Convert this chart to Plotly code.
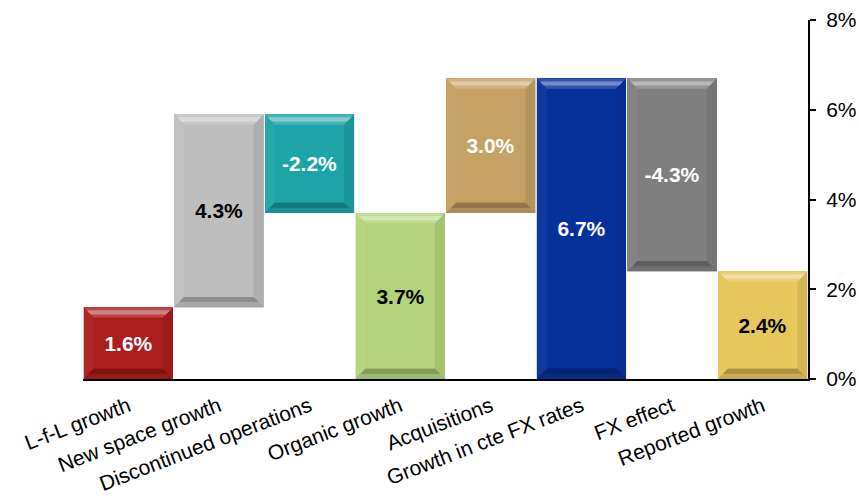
import plotly.graph_objects as go

# Growth bridge data (percent)
categories = [
    "L-f-L growth",
    "New space growth",
    "Discontinued operations",
    "Organic growth",
    "Acquisitions",
    "Growth in cte FX rates",
    "FX effect",
    "Reported growth",
]
values = [1.6, 4.3, -2.2, 3.7, 3.0, 6.7, -4.3, 2.4]
kinds = ["delta", "delta", "delta", "total", "delta", "total", "delta", "total"]
labels = ["1.6%", "4.3%", "-2.2%", "3.7%", "3.0%", "6.7%", "-4.3%", "2.4%"]
y_ticks = [0, 2, 4, 6, 8]

# Bar face colours and label colours
faces = ["#AC1D1D", "#BEBEBE", "#1DA4A7", "#B3D37B", "#C4A165", "#06319B", "#7F7F7F", "#E6C75B"]
text_colors = ["white", "black", "white", "black", "white", "white", "white", "black"]


def mix(hex_col, target, t):
    """Blend a hex colour toward an RGB target by fraction t."""
    h = hex_col.lstrip("#")
    r, g, b = (int(h[k:k + 2], 16) for k in (0, 2, 4))
    tr, tg, tb = target
    return "#{:02X}{:02X}{:02X}".format(
        round(r + (tr - r) * t), round(g + (tg - g) * t), round(b + (tb - b) * t)
    )


WHITE = (255, 255, 255)
BLACK = (0, 0, 0)

# Running level for the bridge: deltas float, totals start at zero
bases, heights = [], []
level = 0.0
for v, k in zip(values, kinds):
    if k == "total":
        bases.append(0.0)
        heights.append(v)
        level = v
    else:
        bases.append(level)
        heights.append(v)
        level = round(level + v, 6)

xs = list(range(len(categories)))
bar_w = 0.985

fig = go.Figure()
fig.add_trace(
    go.Bar(
        x=xs,
        y=heights,
        base=bases,
        width=bar_w,
        marker=dict(color=faces, line=dict(width=0)),
        text=labels,
        textposition="inside",
        insidetextanchor="middle",
        textangle=0,
        constraintext="none",
        textfont=dict(family="Liberation Sans, Arial", size=21, color=text_colors, weight="bold"),
        hoverinfo="skip",
        showlegend=False,
    )
)

# Bevelled edges on each bar, built in data units from the same values
dx = 0.11
dy = 0.23
shapes = []


def poly(col, pts):
    path = "M " + " L ".join(f"{px:.4f},{py:.4f}" for px, py in pts) + " Z"
    return dict(type="path", path=path, xref="x", yref="y",
                fillcolor=col, line=dict(width=0), layer="above")


for i, (b, h) in enumerate(zip(bases, heights)):
    face = faces[i]
    y0 = min(b, b + h)
    y1 = max(b, b + h)
    x0 = i - bar_w / 2
    x1 = i + bar_w / 2
    ix0, ix1 = x0 + dx, x1 - dx
    iy0, iy1 = y0 + dy, y1 - dy
    # sides and bottom
    shapes.append(poly(mix(face, WHITE, 0.04), [(x0, y0), (x0, y1), (ix0, iy1), (ix0, iy0)]))
    shapes.append(poly(mix(face, BLACK, 0.08), [(x1, y0), (x1, y1), (ix1, iy1), (ix1, iy0)]))
    shapes.append(poly(mix(face, BLACK, 0.22), [(x0, y0), (x1, y0), (ix1, iy0), (ix0, iy0)]))
    # softer inner band of the bottom edge
    a, c = 0.0, 0.5
    shapes.append(poly(mix(face, BLACK, 0.12), [
        (x0 + dx * a, y0 + dy * a), (x1 - dx * a, y0 + dy * a),
        (x1 - dx * c, y0 + dy * c), (x0 + dx * c, y0 + dy * c)]))
    shapes.append(poly(mix(face, BLACK, 0.26), [
        (x0 + dx * c, y0 + dy * c), (x1 - dx * c, y0 + dy * c),
        (ix1, iy0), (ix0, iy0)]))
    # top edge with a bright highlight band
    shapes.append(poly(mix(face, WHITE, 0.18), [(x0, y1), (x1, y1), (ix1, iy1), (ix0, iy1)]))
    a, c = 0.3, 0.7
    shapes.append(poly(mix(face, WHITE, 0.45), [
        (x0 + dx * a, y1 - dy * a), (x1 - dx * a, y1 - dy * a),
        (x1 - dx * c, y1 - dy * c), (x0 + dx * c, y1 - dy * c)]))

fig.update_layout(
    width=859,
    height=500,
    margin=dict(l=83, r=51, t=20, b=121, autoexpand=False),
    paper_bgcolor="white",
    plot_bgcolor="white",
    font=dict(family="Liberation Sans, Arial", size=21, color="black"),
    bargap=0,
    shapes=shapes,
    xaxis=dict(
        range=[-0.5, len(categories) - 0.5],
        tickmode="array",
        tickvals=xs,
        ticktext=categories,
        tickangle=-21,
        showgrid=False,
        zeroline=False,
        showline=True,
        linecolor="black",
        linewidth=2,
        ticks="",
        ticklabelstandoff=5,
        automargin=False,
        tickfont=dict(size=21),
    ),
    yaxis=dict(
        side="right",
        range=[0, 8],
        tickmode="array",
        tickvals=y_ticks,
        ticktext=[f"{t}%" for t in y_ticks],
        showgrid=False,
        zeroline=False,
        showline=True,
        linecolor="black",
        linewidth=2,
        ticks="outside",
        ticklen=6,
        tickwidth=1.5,
        tickcolor="black",
        ticklabelstandoff=6,
        automargin=False,
        tickfont=dict(size=21),
    ),
)

fig.write_html("out.html")
